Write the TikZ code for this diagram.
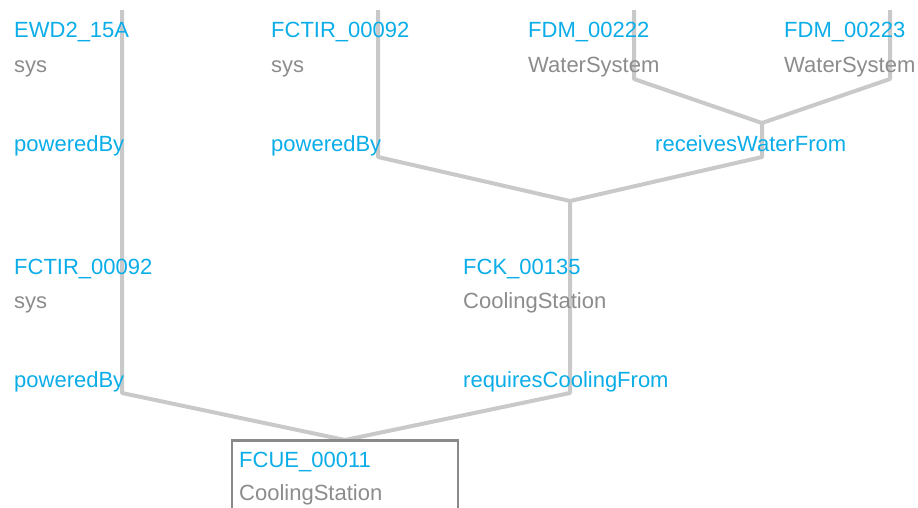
\documentclass[tikz,border=0pt]{standalone}
\usepackage{fontspec}
\setmainfont{Liberation Sans}
\definecolor{idblue}{HTML}{0BADE8}
\definecolor{typegray}{HTML}{8C8C8C}
\definecolor{edgegray}{HTML}{C9C9C9}
\definecolor{boxgray}{HTML}{8A8A8A}
\begin{document}
\begin{tikzpicture}[x=1pt,y=-1pt,
  edge/.style={draw=edgegray,line width=4pt,line join=round},
  idlabel/.style={anchor=base west,inner sep=0pt,text=idblue,font=\fontsize{22}{26}\selectfont},
  typelabel/.style={idlabel,text=typegray},
  rellabel/.style={idlabel},
  rootbox/.style={draw=boxgray,line width=2.8pt}]
\useasboundingbox (0,0) rectangle (918,507);
\clip (0,0) rectangle (918,507);

% attachment points of the nodes and edge junctions
\coordinate (ewd) at (122,10);
\coordinate (fctirA) at (378,10);
\coordinate (fdmA) at (634,10);
\coordinate (fdmB) at (890,10);
\coordinate (fdmAbend) at (634,79);
\coordinate (fdmBbend) at (890,79);
\coordinate (water) at (762,123);
\coordinate (waterbend) at (762,157);
\coordinate (fctirAbend) at (378,157);
\coordinate (fck) at (570,201);
\coordinate (fckbend) at (570,393);
\coordinate (fctirBbend) at (122,393);
\coordinate (root) at (345,440);

% edges (drawn first, labels sit on top)
\draw[edge] (ewd) -- (fctirBbend) -- (root);
\draw[edge] (fctirA) -- (fctirAbend) -- (fck);
\draw[edge] (fdmA) -- (fdmAbend) -- (water);
\draw[edge] (fdmB) -- (fdmBbend) -- (water);
\draw[edge] (water) -- (waterbend) -- (fck);
\draw[edge] (fck) -- (fckbend) -- (root);

% root box
\draw[rootbox] (232,440.5) rectangle (458,540);

% top row
\node[idlabel] (n1) at (14,37) {EWD2\_15A};
\node[typelabel] (t1) at (14,72) {sys};
\node[idlabel] (n2) at (271,37) {FCTIR\_00092};
\node[typelabel] (t2) at (271,72) {sys};
\node[idlabel] (n3) at (528,37) {FDM\_00222};
\node[typelabel] (t3) at (528,72) {WaterSystem};
\node[idlabel] (n4) at (784,37) {FDM\_00223};
\node[typelabel] (t4) at (784,72) {WaterSystem};

% first relation row
\node[rellabel] (r1) at (14,151) {poweredBy};
\node[rellabel] (r2) at (271,151) {poweredBy};
\node[rellabel] (r3) at (655,151) {receivesWaterFrom};

% middle row
\node[idlabel] (n5) at (14,274) {FCTIR\_00092};
\node[typelabel] (t5) at (14,308) {sys};
\node[idlabel] (n6) at (463,274) {FCK\_00135};
\node[typelabel] (t6) at (463,308) {CoolingStation};

% second relation row
\node[rellabel] (r4) at (14,387) {poweredBy};
\node[rellabel] (r5) at (463,387) {requiresCoolingFrom};

% root
\node[idlabel] (n7) at (239,467) {FCUE\_00011};
\node[typelabel] (t7) at (239,500) {CoolingStation};
\end{tikzpicture}
\end{document}
